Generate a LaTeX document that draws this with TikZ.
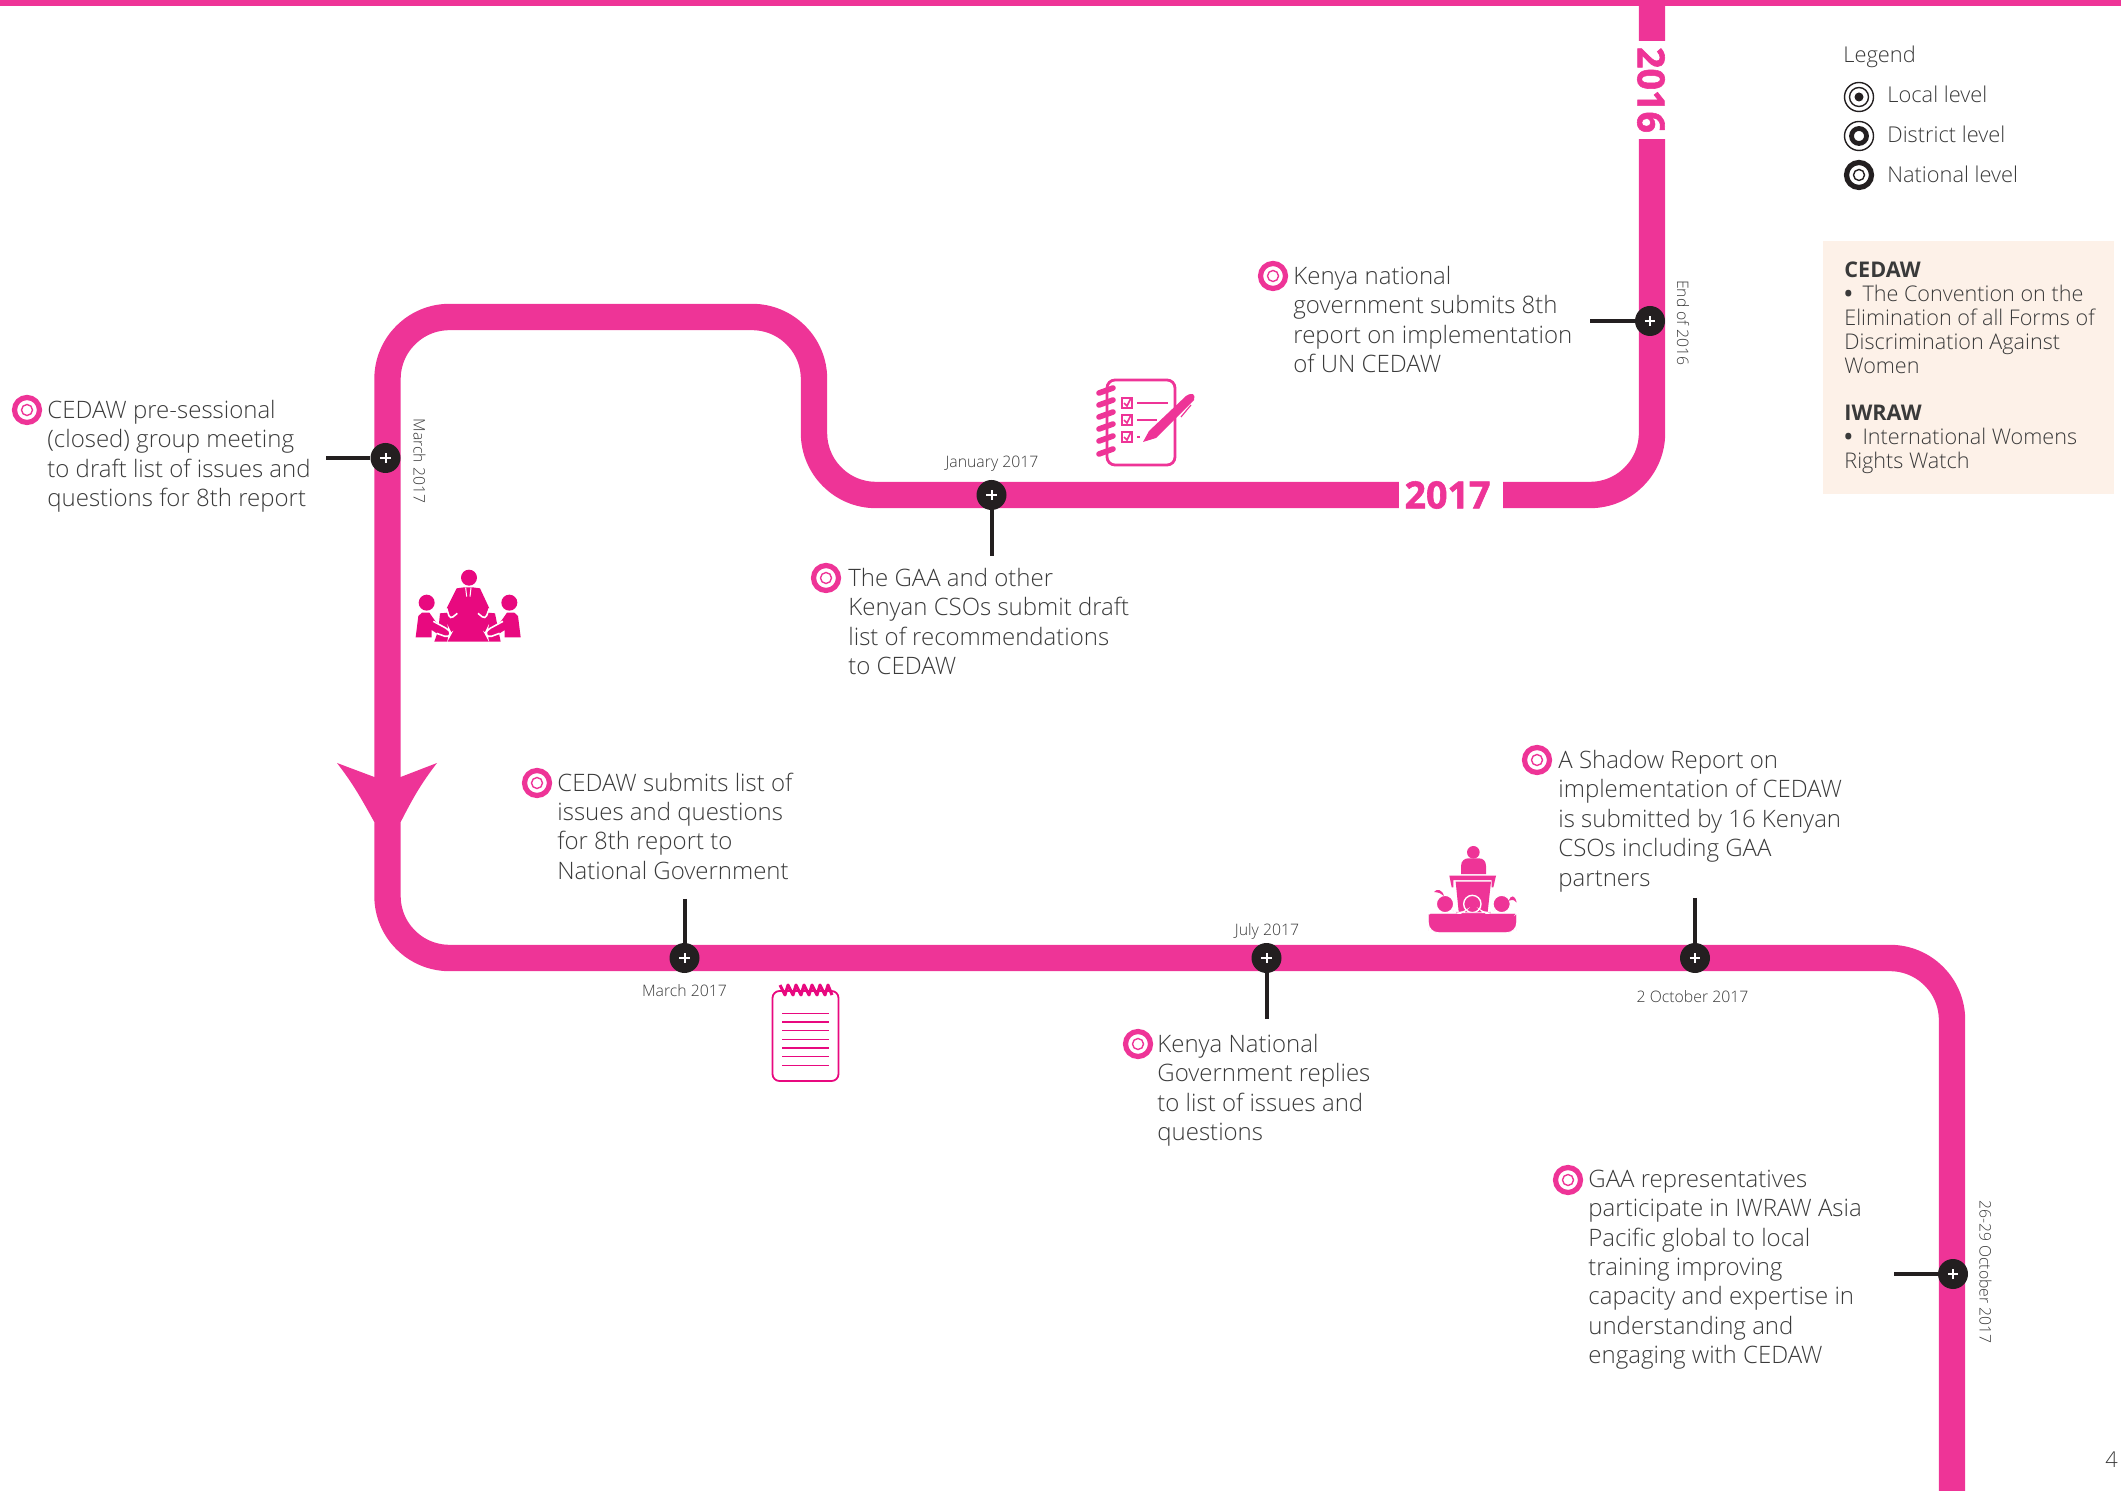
\documentclass[tikz,border=0pt]{standalone}
\usepackage{fontspec}
\setmainfont{Open Sans}[UprightFont=* Light,BoldFont=* Bold]
\newfontfamily\heavyfont{Open Sans}[UprightFont=* Bold,FakeBold=1.5]
\definecolor{tpink}{HTML}{EE3497}
\definecolor{mpink}{HTML}{E8097F}
\definecolor{dark}{HTML}{231F20}
\definecolor{tgray}{HTML}{3A3A3A}
\definecolor{beige}{HTML}{FDF1E8}
\tikzset{
 x=0.5pt,y=-0.5pt,
 track/.style={draw=tpink,line width=13.2pt,rounded corners=31pt},
 stem/.style={draw=dark,line width=2pt},
 para/.style={anchor=north west,inner sep=0pt,align=left,text=tgray,yshift=-2.2pt,font=\fontsize{12}{14.7}\selectfont},
 boxtxt/.style={anchor=north west,inner sep=0pt,align=left,text=tgray,font=\fontsize{10.8}{12}\selectfont},
 leg/.style={anchor=west,inner sep=0pt,text=tgray,font=\fontsize{10.9}{12}\selectfont},
 datel/.style={inner sep=0pt,text=tgray,font=\fontsize{7.9}{9}\selectfont},
 yeart/.style={inner sep=0pt,text=tpink,font=\heavyfont\fontsize{18.8}{20}\selectfont},
 iconz/.style={shift={(#1)},x=0.16667pt,y=-0.16667pt},
 marker/.style={circle,fill=dark,minimum size=15pt,inner sep=0pt,
   path picture={\draw[white,line width=1pt] ([xshift=-2.6pt]path picture bounding box.center) -- ([xshift=2.6pt]path picture bounding box.center);
   \draw[white,line width=1pt] ([yshift=-2.6pt]path picture bounding box.center) -- ([yshift=2.6pt]path picture bounding box.center);}},
 pics/natring/.style={code={
   \draw[#1,line width=2.6pt] (0,0) circle (12.5);
   \draw[#1,line width=0.7pt] (0,0) circle (5.5);}},
 pics/distring/.style={code={
   \draw[dark,line width=0.7pt] (0,0) circle (14.5);
   \draw[dark,line width=2.4pt] (0,0) circle (7.5);}},
 pics/localring/.style={code={
   \draw[dark,line width=0.7pt] (0,0) circle (14.5);
   \draw[dark,line width=0.7pt] (0,0) circle (9.5);
   \fill[dark] (0,0) circle (4.5);}},
}
\begin{document}
\begin{tikzpicture}
\useasboundingbox (0,0) rectangle (2121,1491);
% top rule and beige box
\fill[tpink] (0,0) rectangle (2121,6);
\fill[beige] (1823,241) rectangle (2114,494);
% timeline
\draw[track] (1652,0) -- (1652,495) -- (814,495) -- (814,317) -- (387.5,317) -- (387.5,958) -- (1952,958) -- (1952,1491);
\fill[white] (1630,41) rectangle (1675,139);
\fill[white] (1399,470) rectangle (1503,520);
\node[yeart,rotate=-90] (y16) at (1651,90) {2016};
\node[yeart] (y17) at (1447.5,495) {2017};
% arrow
\fill[tpink] (337,763) -- (374.3,777) -- (400.7,777) -- (437,763) .. controls (420,785) and (412,800) .. (400.7,822) -- (374.3,822) .. controls (362,800) and (354,785) .. (337,763) -- cycle;
% markers and stems
\coordinate (s1) at (1590,321);
\coordinate (s2) at (991.5,556);
\coordinate (s3) at (326,458);
\coordinate (s4) at (684.5,899);
\coordinate (s5) at (1266.5,1019);
\coordinate (s6) at (1695,898);
\coordinate (s7) at (1894,1274);
\node[marker] (m1) at (1650,321) {};
\node[marker] (m2) at (991.5,495) {};
\node[marker] (m3) at (385.5,458) {};
\node[marker] (m4) at (684.5,958) {};
\node[marker] (m5) at (1266.5,958) {};
\node[marker] (m6) at (1695,958) {};
\node[marker] (m7) at (1953,1274) {};
\draw[stem] (s1) -- (m1);
\draw[stem] (s2) -- (m2);
\draw[stem] (s3) -- (m3);
\draw[stem] (s4) -- (m4);
\draw[stem] (s5) -- (m5);
\draw[stem] (s6) -- (m6);
\draw[stem] (s7) -- (m7);
% dates
\node[datel] (d2) at (992,464) {January 2017};
\node[datel,rotate=-90] (d3) at (419.5,461) {March 2017};
\node[datel,rotate=-90] (d1) at (1683,323) {End of 2016};
\node[datel] (d4) at (684.5,991) {March 2017};
\node[datel] (d5) at (1267,931) {July 2017};
\node[datel] (d6) at (1692.5,997) {2 October 2017};
\node[datel,rotate=-90] (d7) at (1985.5,1272) {26-29 October 2017};
% rings
\pic at (1273,276) {natring=tpink};
\pic at (826,578) {natring=tpink};
\pic at (27,410) {natring=tpink};
\pic at (537,783) {natring=tpink};
\pic at (1537,760) {natring=tpink};
\pic at (1138,1044) {natring=tpink};
\pic at (1568,1180) {natring=tpink};
% paragraphs
\node[para] (t1) at (1293,261.5) {Kenya national\\government submits 8th\\report on implementation\\of UN CEDAW};
\node[para] (t2) at (848,563.5) {The GAA and other\\Kenyan CSOs submit draft\\list of recommendations\\to CEDAW};
\node[para] (t3) at (47,395.5) {CEDAW pre-sessional\\(closed) group meeting\\to draft list of issues and\\questions for 8th report};
\node[para] (t4) at (557,768) {CEDAW submits list of\\issues and questions\\for 8th report to\\National Government};
\node[para] (t5) at (1558,745.5) {A Shadow Report on\\implementation of CEDAW\\is submitted by 16 Kenyan\\CSOs including GAA\\partners};
\node[para] (t6) at (1157,1029.5) {Kenya National\\Government replies\\to list of issues and\\questions};
\node[para] (t7) at (1588,1165) {GAA representatives\\participate in IWRAW Asia\\Pacific global to local\\training improving\\capacity and expertise in\\understanding and\\engaging with CEDAW};
% legend
\node[leg] (lg) at (1843,57) {Legend};
\pic at (1859,97) {localring};
\pic at (1859,136) {distring};
\pic at (1859,175) {natring=dark};
\node[leg] (l1) at (1887,94.5) {Local level};
\node[leg] (l2) at (1887,134.5) {District level};
\node[leg] (l3) at (1887,174.5) {National level};
\node[boxtxt] (b1) at (1844,261) {\textbf{CEDAW}\\\textbf{\textbullet}\hspace{5pt}The Convention on the\\Elimination of all Forms of\\Discrimination Against\\Women};
\node[boxtxt] (b2) at (1844,405) {\textbf{IWRAW}\\\textbf{\textbullet}\hspace{5pt}International Womens\\Rights Watch};
\node[leg,anchor=base west] (pg) at (2105,1467) {4};
% checklist icon
\begin{scope}[tpink]
\draw[line width=1.4pt,rounded corners=4pt] (1107,380) rectangle (1175,465);
\foreach \yy in {391,403,415,427,439,452}
  \draw[line width=2.8pt,line cap=round] (1099,\yy+2) -- (1113,\yy-3);
\foreach \yy in {403,420,437} {
  \draw[line width=0.6pt] (1122,\yy-5) rectangle (1132,\yy+5);
  \draw[line width=0.8pt] (1124,\yy) -- (1127,\yy+3) -- (1131,\yy-5);}
\draw[line width=1.1pt] (1137,403) -- (1168,403);
\draw[line width=1.1pt] (1137,420) -- (1157,420);
\draw[line width=1.1pt] (1137,437) -- (1140,437);
\fill (1143,442) -- (1149,431) -- (1186,396) .. controls (1192,392) and (1196,394) .. (1194,400) -- (1156,438) -- cycle;
\draw[line width=0.6pt] (1181,417) -- (1191,405);
\end{scope}
% meeting icon
\begin{scope}[iconz={400,550},mpink]
\fill (207,83) circle (24);
\fill (80,158) circle (24);
\fill (328,158) circle (24);
\fill (103,275) -- (115,240) -- (120,190) -- (143,188) -- (140,175) -- (170,115) -- (192,112) -- (218,112) -- (240,115) -- (268,175) -- (265,188) -- (285,190) -- (295,240) -- (302,275) -- cycle;
\draw[white,line width=0.8pt,rounded corners=2pt] (140,175) -- (150,208) -- (172,190);
\draw[white,line width=0.8pt,rounded corners=2pt] (268,175) -- (256,208) -- (234,190);
\fill (47,262) -- (55,198) -- (66,188) -- (88,188) -- (107,215) -- (150,245) -- (145,262) -- (110,250) -- (95,240) -- (95,262) -- cycle;
\fill (362,262) -- (354,198) -- (343,188) -- (321,188) -- (302,215) -- (259,245) -- (264,262) -- (299,250) -- (314,240) -- (314,262) -- cycle;
\draw[white,line width=0.8pt,rounded corners=2pt] (100,214) -- (148,240) -- (153,250) -- (146,263) -- (110,250);
\draw[white,line width=0.8pt,rounded corners=2pt] (309,214) -- (261,240) -- (256,250) -- (263,263) -- (299,250);
\draw[white,line width=0.5pt] (197,113) -- (200,140);
\draw[white,line width=0.5pt] (213,113) -- (210,140);
\end{scope}
% podium icon
\begin{scope}[iconz={1410,830},tpink]
\fill (190,67) circle (19);
\fill (153,132) -- (153,108) .. controls (153,92) and (165,85) .. (175,85) -- (207,85) .. controls (218,85) and (228,92) .. (228,108) -- (228,132) -- cycle;
\fill (118,137) -- (258,137) -- (250,172) -- (245,172) -- (245,150) -- (130,150) -- (130,172) -- (125,172) -- cycle;
\fill (137,155) -- (243,155) -- (232,255) -- (147,255) -- cycle;
\draw[white,line width=0.7pt,fill=tpink] (187,222) circle (26);
\draw[white,line width=0.6pt,fill=tpink] (105,222) circle (26);
\draw[white,line width=0.6pt,fill=tpink] (275,222) circle (26);
\fill (72,186) .. controls (80,175) and (97,178) .. (102,198) .. controls (95,190) and (85,187) .. (72,186) -- cycle;
\fill (296,212) .. controls (302,195) and (315,193) .. (320,218) .. controls (312,208) and (305,208) .. (296,212) -- cycle;
\filldraw[white,line width=0.4pt,fill=tpink,rounded corners=5pt] (55,308) -- (55,272) .. controls (55,258) and (65,250) .. (85,250) -- (125,250) .. controls (135,250) and (142,253) .. (148,258) .. controls (155,252) and (165,248) .. (178,248) -- (200,248) .. controls (215,248) and (225,252) .. (232,258) .. controls (238,253) and (245,250) .. (255,250) -- (295,250) .. controls (312,250) and (320,258) .. (320,272) -- (320,308) -- cycle;
\end{scope}
% notebook icon
\begin{scope}[mpink]
\draw[line width=0.9pt,rounded corners=3.5pt] (772.5,991) rectangle (838.5,1081);
\foreach \yy in {1013.3,1022,1030.7,1039.3,1048,1056.7,1065.3}
  \draw[line width=0.6pt] (782,\yy) -- (829,\yy);
\draw[line width=1.5pt,line join=round] (780,985) -- (785,995) -- (788,985) -- (793,995) -- (796,985) -- (801,995) -- (804,985) -- (809,995) -- (812,985) -- (817,995) -- (820,985) -- (825,995) -- (828,985) -- (832,995);
\end{scope}
\end{tikzpicture}
\end{document}
